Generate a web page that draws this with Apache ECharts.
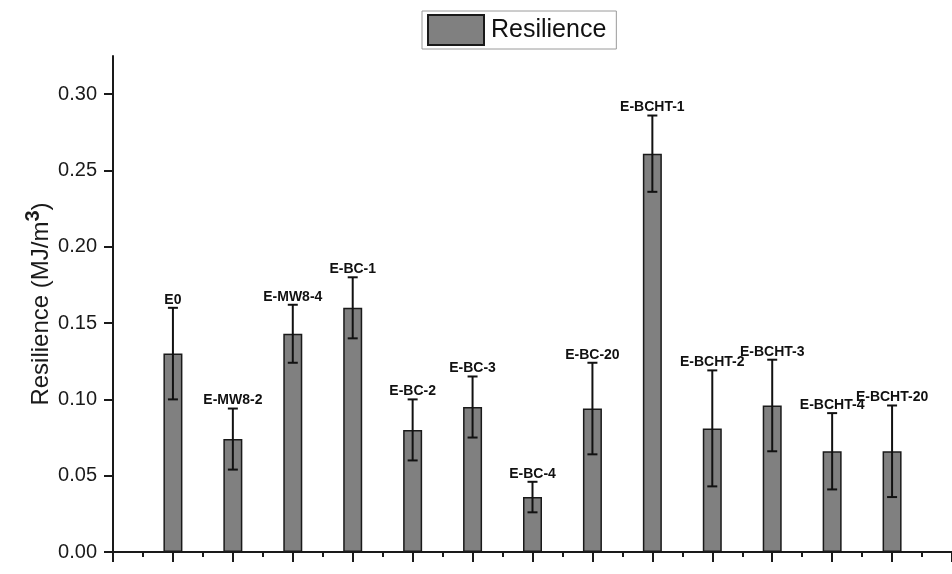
<!DOCTYPE html>
<html>
<head>
<meta charset="utf-8">
<title>Resilience</title>
<script src="https://cdn.jsdelivr.net/npm/echarts@6/dist/echarts.min.js"></script>
<style>
  html, body { margin: 0; padding: 0; background: #fff; }
  #chart { width: 952px; height: 574px; }
</style>
</head>
<body>
<div id="chart"></div>
<script>
// 样品名称
const categories = ['E0', 'E-MW8-2', 'E-MW8-4', 'E-BC-1', 'E-BC-2', 'E-BC-3', 'E-BC-4',
  'E-BC-20', 'E-BCHT-1', 'E-BCHT-2', 'E-BCHT-3', 'E-BCHT-4', 'E-BCHT-20'];
// 回弹能 (MJ/m3)
const resilience = [0.130, 0.074, 0.143, 0.160, 0.080, 0.095, 0.036, 0.094, 0.261, 0.081, 0.096, 0.066, 0.066];
// 误差
const errors = [0.030, 0.020, 0.019, 0.020, 0.020, 0.020, 0.010, 0.030, 0.025, 0.038, 0.030, 0.025, 0.030];
// y轴主刻度
const yTicks = [0, 0.05, 0.10, 0.15, 0.20, 0.25, 0.30];

const barData = resilience.map((v, i) => [i + 1, v]);
const errData = resilience.map((v, i) => [i + 1, v - errors[i], v + errors[i], categories[i]]);

const chart = echarts.init(document.getElementById('chart'));
const axisColor = '#1a1a1a';
const font = 'Arial, "Liberation Sans", sans-serif';

const option = {
  backgroundColor: '#ffffff',
  animation: false,
  grid: { left: 113, right: -5, top: 56, bottom: 22 },
  legend: {
    left: 422, top: 11,
    padding: [3, 10, 3, 5],
    itemWidth: 56, itemHeight: 30,
    icon: 'rect',
    borderColor: '#9a9a9a', borderWidth: 1,
    textStyle: { fontSize: 25, color: '#111', fontFamily: font, padding: [0, 0, 0, 2] },
    data: ['Resilience']
  },
  xAxis: {
    type: 'value', min: 0, max: 14, interval: 1,
    axisLine: { show: true, onZero: false, lineStyle: { color: axisColor, width: 2 } },
    axisTick: { show: true, length: 10, lineStyle: { color: axisColor, width: 2 } },
    minorTick: { show: true, splitNumber: 2, length: 5, lineStyle: { color: axisColor, width: 2 } },
    axisLabel: { show: false },
    splitLine: { show: false }
  },
  yAxis: [
    {
      type: 'value', min: 0, max: 0.325, interval: 0.05,
      axisLine: { show: true, lineStyle: { color: axisColor, width: 2 } },
      axisTick: { show: true, length: 9, customValues: yTicks, lineStyle: { color: axisColor, width: 2 } },
      axisLabel: {
        customValues: yTicks, margin: 16, fontSize: 20, color: '#1a1a1a', fontFamily: font,
        formatter: v => v.toFixed(2)
      },
      splitLine: { show: false },
      name: 'Resilience (MJ/m{sup|3})',
      nameLocation: 'middle', nameRotate: 90, nameGap: 54,
      nameMoveOverlap: false,
      nameTextStyle: {
        fontSize: 24, color: '#1a1a1a', fontFamily: font,
        rich: { sup: { fontSize: 20, fontWeight: 'bold', color: '#1a1a1a', fontFamily: font, padding: [0, 0, 16, 0] } }
      }
    },
    {
      // 次刻度
      type: 'value', min: 0, max: 0.325, interval: 0.025,
      axisLine: { show: false },
      axisTick: { show: true, length: 4, lineStyle: { color: axisColor, width: 2 } },
      axisLabel: { show: false },
      splitLine: { show: false }
    }
  ],
  series: [
    {
      name: 'Resilience',
      type: 'bar',
      data: barData,
      barWidth: 19,
      itemStyle: { color: '#808080', borderColor: '#1a1a1a', borderWidth: 1.5 }
    },
    {
      name: 'error',
      type: 'custom',
      data: errData,
      z: 5,
      renderItem: function (params, api) {
        const x = api.value(0);
        const lo = api.coord([x, api.value(1)]);
        const hi = api.coord([x, api.value(2)]);
        const cap = 5;
        const st = { stroke: '#111', lineWidth: 2 };
        return {
          type: 'group',
          children: [
            { type: 'line', shape: { x1: lo[0], y1: lo[1], x2: hi[0], y2: hi[1] }, style: st },
            { type: 'line', shape: { x1: lo[0] - cap, y1: lo[1], x2: lo[0] + cap, y2: lo[1] }, style: st },
            { type: 'line', shape: { x1: hi[0] - cap, y1: hi[1], x2: hi[0] + cap, y2: hi[1] }, style: st },
            {
              type: 'text',
              style: {
                x: hi[0], y: hi[1] - 8, text: api.value(3),
                align: 'center', verticalAlign: 'middle',
                fontSize: 14, fontWeight: 'bold', fontFamily: font, fill: '#111'
              }
            }
          ]
        };
      }
    }
  ]
};
chart.setOption(option);
window.addEventListener('resize', function () {
  chart.resize();
});
</script>
</body>
</html>
